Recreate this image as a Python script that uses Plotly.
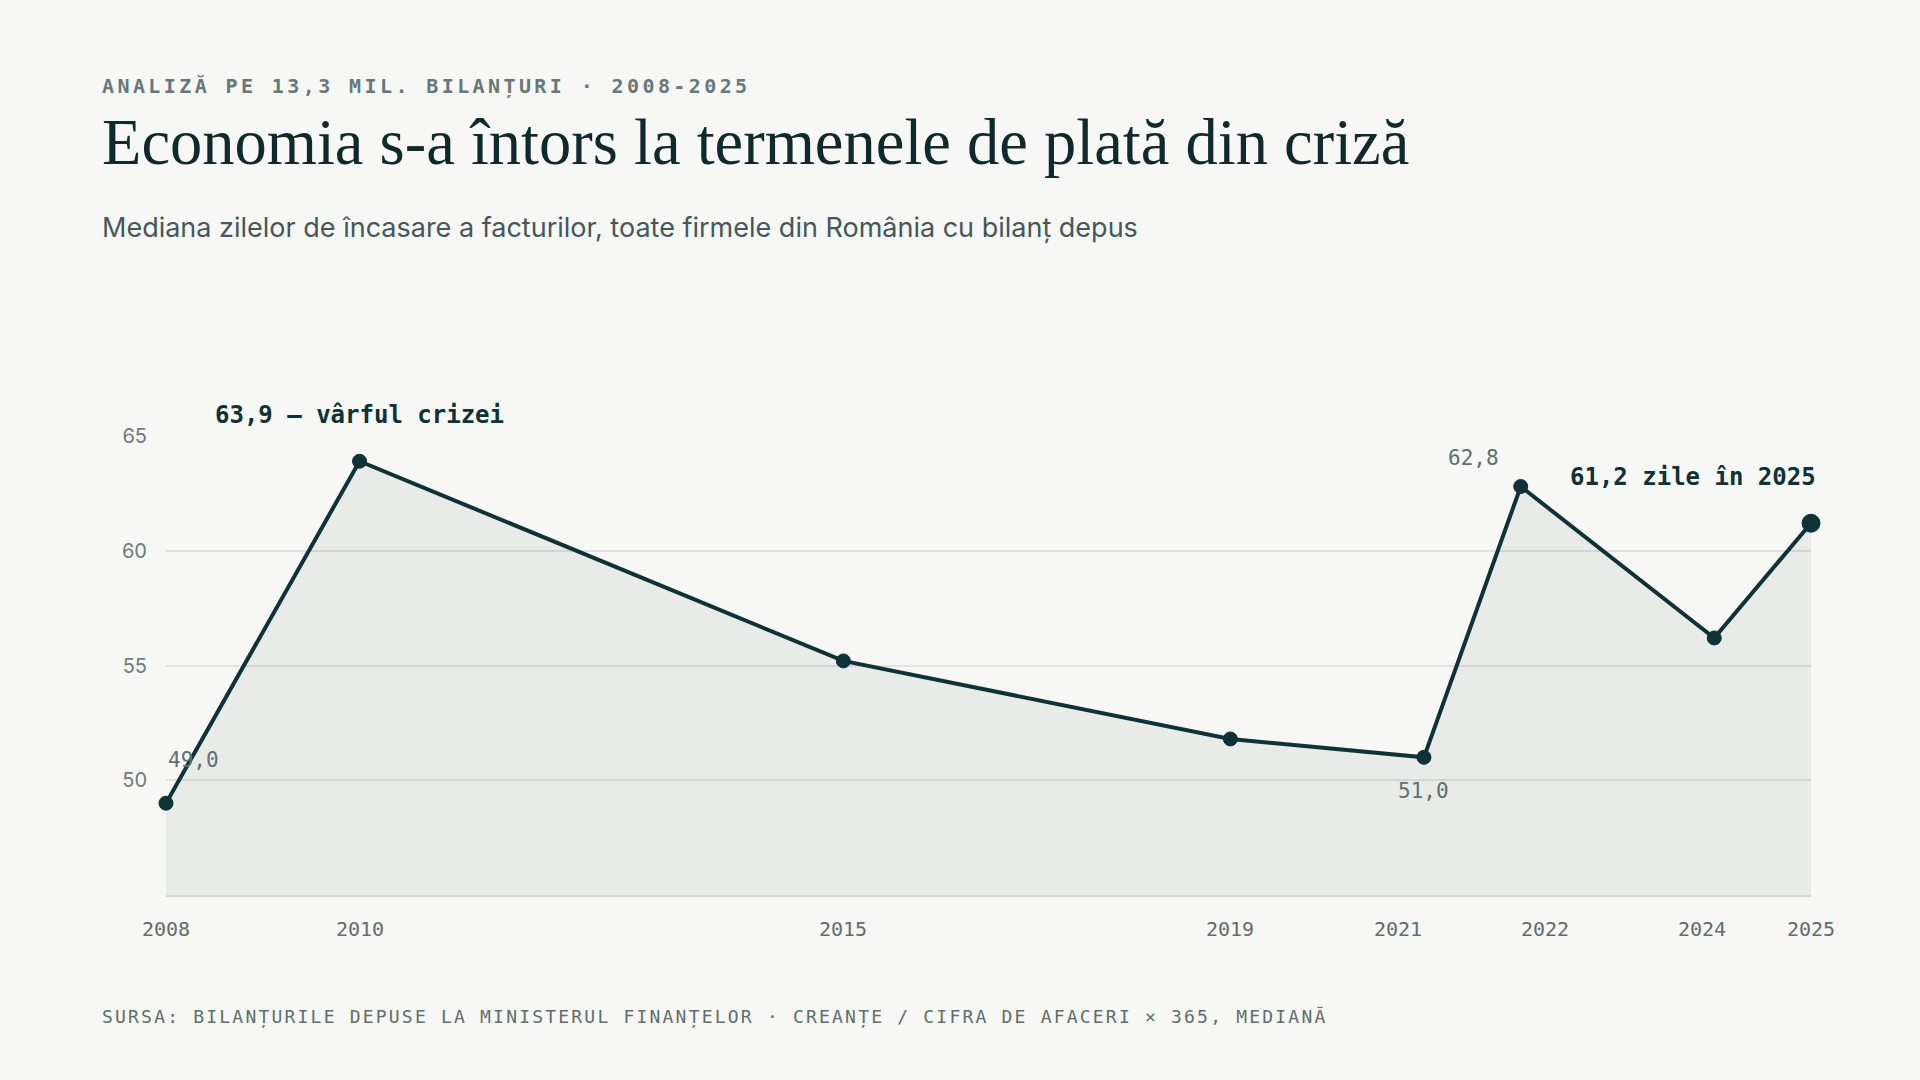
import plotly.graph_objects as go

# data
years = [2008, 2010, 2015, 2019, 2021, 2022, 2024, 2025]
median_days = [49.0, 63.9, 55.2, 51.8, 51.0, 62.8, 56.2, 61.2]
tick_years = [2008, 2010, 2015, 2019, 2021, 2022, 2024, 2025]
tick_text = ["2008", "2010", "2015", "2019", "2021", "2022", "2024", "2025"]
y_ticks = [50, 55, 60, 65]

BG = "#f7f7f5"
INK = "#0f3236"
MUTED = "#5f6e6e"
MONO = "DejaVu Sans Mono"
SANS = "Inter"
SERIF = "Liberation Serif"

# plot box in pixels (1920x1080 page)
L, R, T, B = 166, 109, 436, 185
W, H = 1920, 1080
pw, ph = W - L - R, H - T - B


def px(x):
    return (x - L) / pw


def py(y):
    return (H - B - y) / ph


def spaced(txt, em):
    return f'<span style="letter-spacing:{em}px">{txt}</span>'


fig = go.Figure()

fig.add_trace(go.Scatter(
    x=years, y=median_days,
    mode="lines+markers",
    fill="tozeroy",
    fillcolor="rgba(20,50,45,0.06)",
    line=dict(color=INK, width=4),
    marker=dict(color=INK, size=[14] * (len(years) - 1) + [18], opacity=1,
                line=dict(width=1, color=INK)),
    cliponaxis=False,
    hoverinfo="skip",
))

# point labels
point_notes = [
    (2010, 63.9, "<b>63,9 — vârful crizei</b>", INK, 24, "center", 0, 46),
    (2008, 49.0, "49,0", MUTED, 21, "center", 27, 43),
    (2021, 51.0, "51,0", MUTED, 21, "center", 0, -34),
    (2022, 62.8, "62,8", MUTED, 21, "center", -47, 28),
    (2025, 61.2, "<b>61,2 zile în 2025</b>", INK, 24, "right", 7, 46),
]
for x, y, txt, col, size, anchor, dx, dy in point_notes:
    fig.add_annotation(x=x, y=y, text=txt, showarrow=False, xanchor=anchor,
                       yanchor="middle", xshift=dx, yshift=dy,
                       font=dict(family=MONO, size=size, color=col))

# x tick labels, nudged apart like the original
tick_nudge = {2021: -26, 2022: 24, 2024: -12}
for yr, lab in zip(tick_years, tick_text):
    fig.add_annotation(x=yr, y=0, yref="paper", text=lab, showarrow=False,
                       xanchor="center", yanchor="middle",
                       xshift=tick_nudge.get(yr, 0), yshift=-34,
                       font=dict(family=MONO, size=20, color=MUTED))

# header / footer
fig.add_annotation(xref="paper", yref="paper", x=px(100), y=py(86),
                   text=spaced("<b>ANALIZĂ PE 13,3 MIL. BILANȚURI · 2008-2025</b>", 3.4),
                   showarrow=False, xanchor="left", yanchor="middle",
                   font=dict(family=MONO, size=20, color="#68777a"))
fig.add_annotation(xref="paper", yref="paper", x=px(100), y=py(142),
                   text="Economia s-a întors la termenele de plată din criză",
                   showarrow=False, xanchor="left", yanchor="middle",
                   font=dict(family=SERIF, size=64.5, color="#10292b"))
fig.add_annotation(xref="paper", yref="paper", x=px(100), y=py(228),
                   text="Mediana zilelor de încasare a facturilor, toate firmele din România cu bilanț depus",
                   showarrow=False, xanchor="left", yanchor="middle",
                   font=dict(family=SANS, size=27, color="#46575a"))
fig.add_annotation(xref="paper", yref="paper", x=px(100), y=py(1017),
                   text=spaced("SURSA: BILANȚURILE DEPUSE LA MINISTERUL FINANȚELOR · CREANȚE / CIFRA DE AFACERI × 365, MEDIANĂ", 2.2),
                   showarrow=False, xanchor="left", yanchor="middle",
                   font=dict(family=MONO, size=18, color=MUTED))

fig.update_layout(
    width=W, height=H,
    paper_bgcolor=BG, plot_bgcolor=BG,
    margin=dict(l=L, r=R, t=T, b=B),
    showlegend=False,
    xaxis=dict(range=[2008, 2025], showgrid=False, zeroline=False,
               showticklabels=False, showline=True, linecolor="#d3d7d5",
               linewidth=2, fixedrange=True),
    yaxis=dict(range=[45, 65], tickvals=y_ticks, ticktext=[str(v) for v in y_ticks],
               showgrid=True, gridcolor="#dfe2e0", gridwidth=1.5, zeroline=False,
               tickfont=dict(family=SANS, size=20, color="#6f7b7b"),
               ticks="", ticklabelstandoff=18, fixedrange=True),
)

fig.write_html("out.html", config={"displayModeBar": False},
               post_script="document.body.style.margin='0';document.body.style.background='#f7f7f5';")
